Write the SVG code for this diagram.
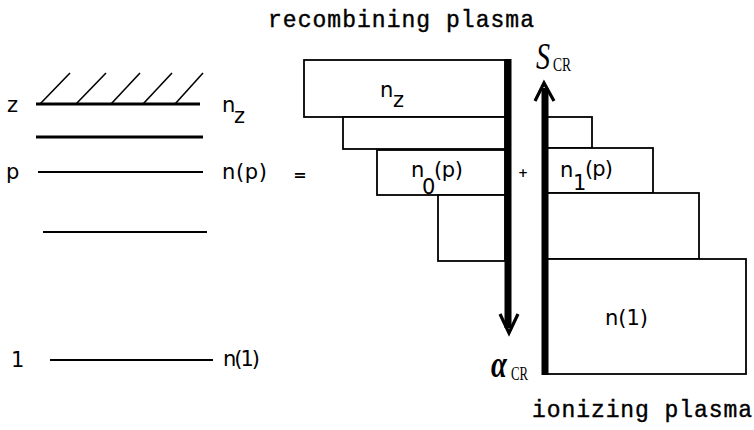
<svg xmlns="http://www.w3.org/2000/svg" width="754" height="430" viewBox="0 0 754 430">
<style>
.lvl{stroke:#000;stroke-width:2.2;fill:none}
.hat{stroke:#000;stroke-width:1.6;fill:none}
.box{stroke:#000;stroke-width:1.8;fill:#fff}
.bar{stroke:#000;stroke-width:7;fill:none}
.head{stroke:#000;stroke-width:3.2;fill:none;stroke-linejoin:miter}
.sans{font-family:"DejaVu Sans","Liberation Sans",sans-serif;font-size:21px;fill:#000}
.mono{font-family:"Liberation Mono","Courier New",monospace;font-size:23px;fill:#000;stroke:#000;stroke-width:0.4}
.ser{font-family:"Liberation Serif","Times New Roman",serif;fill:#000}
</style>
<rect width="754" height="430" fill="#fff"/>

<text class="mono" x="268" y="27" textLength="266">recombining plasma</text>
<text class="mono" x="532" y="417" textLength="220">ionizing plasma</text>

<g id="level-z">
<line class="lvl" x1="36" y1="104" x2="200" y2="104" style="stroke-width:3"/>
<line class="hat" x1="40" y1="104" x2="70" y2="73"/>
<line class="hat" x1="76" y1="104" x2="106" y2="73"/>
<line class="hat" x1="111" y1="104" x2="140" y2="73"/>
<line class="hat" x1="143" y1="104" x2="172" y2="73"/>
<line class="hat" x1="175" y1="104" x2="203" y2="73"/>
<text class="sans" x="7" y="112">z</text>
<text class="sans" x="222" y="112">n</text>
<text class="sans" x="234" y="123">z</text>
</g>
<g id="level-2">
<line class="lvl" x1="36" y1="137" x2="203" y2="137" style="stroke-width:3"/>
</g>
<g id="level-p">
<line class="lvl" x1="38" y1="172" x2="203" y2="172"/>
<text class="sans" x="6" y="179">p</text>
<text class="sans" x="222" y="179" textLength="45">n(p)</text>
</g>
<g id="level-4">
<line class="lvl" x1="43" y1="232" x2="207" y2="232"/>
</g>
<g id="level-1">
<line class="lvl" x1="50" y1="360" x2="213" y2="360"/>
<text class="sans" x="11" y="367">1</text>
<text class="sans" x="223" y="366" textLength="37">n(1)</text>
</g>

<text class="sans" x="300" y="180" text-anchor="middle" style="font-size:16px;font-weight:bold">=</text>
<text class="sans" x="523" y="177" text-anchor="middle" style="font-size:12px;font-weight:bold">+</text>

<g id="box-nz">
<rect class="box" x="304" y="60" width="201" height="57"/>
<text class="sans" x="380" y="97">n</text>
<text class="sans" x="393" y="107">z</text>
</g>
<g id="box-r2">
<rect class="box" x="343" y="117" width="162" height="32"/>
</g>
<g id="box-n0p">
<rect class="box" x="377" y="150" width="128" height="45"/>
<text class="sans" x="411" y="177">n</text>
<text class="sans" x="422" y="194">0</text>
<text class="sans" x="434" y="177" textLength="29">(p)</text>
</g>
<g id="box-r4">
<rect class="box" x="438" y="195" width="67" height="66"/>
</g>

<g id="box-s1">
<rect class="box" x="547" y="117" width="45" height="31"/>
</g>
<g id="box-n1p">
<rect class="box" x="547" y="148" width="106" height="45"/>
<text class="sans" x="560" y="177">n</text>
<text class="sans" x="573" y="190">1</text>
<text class="sans" x="585" y="176" textLength="28">(p)</text>
</g>
<g id="box-s3">
<rect class="box" x="547" y="193" width="152" height="66"/>
</g>
<g id="box-n1">
<rect class="box" x="547" y="259" width="199" height="115"/>
<text class="sans" x="605" y="325" textLength="43">n(1)</text>
</g>

<g id="connectors">
<line class="bar" x1="508" y1="59" x2="508" y2="328"/>
<polyline class="head" points="500,314 509,333 518,314"/>
<line class="bar" x1="545" y1="88" x2="545" y2="375"/>
<polyline class="head" points="535,101 544,83 554,101"/>
</g>

<g id="label-scr">
<text class="ser" x="536" y="69" style="font-size:38px;font-style:italic" textLength="14" lengthAdjust="spacingAndGlyphs">S</text>
<text class="ser" x="553" y="71" style="font-size:18px" textLength="18" lengthAdjust="spacingAndGlyphs">CR</text>
</g>
<g id="label-acr">
<text class="ser" transform="translate(491,377) scale(1.1,1.45)" style="font-size:26px;font-style:italic;font-weight:bold">α</text>
<text class="ser" x="511" y="380" style="font-size:18px" textLength="17" lengthAdjust="spacingAndGlyphs">CR</text>
</g>
</svg>
